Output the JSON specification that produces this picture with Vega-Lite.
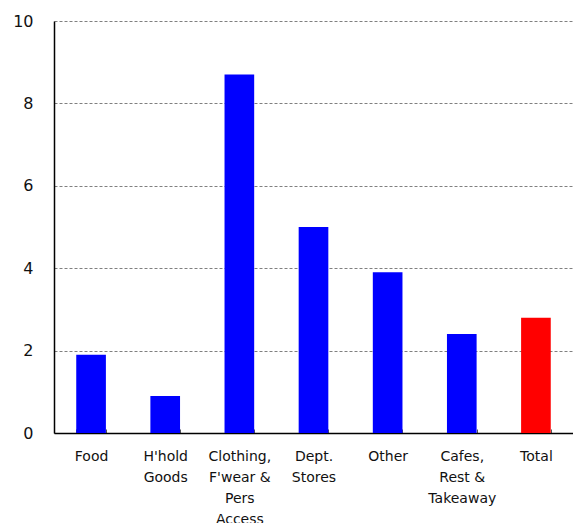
{
  "$schema": "https://vega.github.io/schema/vega-lite/v6.json",
  "autosize": {"type": "none"},
  "padding": {"left": 54, "top": 21, "right": 0, "bottom": 90},
  "width": 519,
  "height": 412,
  "background": "white",
  "config": {"view": {"stroke": null}},
  "data": {
    "values": [
      {"category": "Food", "value": 1.9, "group": "sector"},
      {"category": "H'hold|Goods", "value": 0.9, "group": "sector"},
      {"category": "Clothing,|F'wear &|Pers|Access", "value": 8.7, "group": "sector"},
      {"category": "Dept.|Stores", "value": 5.0, "group": "sector"},
      {"category": "Other", "value": 3.9, "group": "sector"},
      {"category": "Cafes,|Rest &|Takeaway", "value": 2.4, "group": "sector"},
      {"category": "Total", "value": 2.8, "group": "total"}
    ]
  },
  "mark": {"type": "bar"},
  "encoding": {
    "x": {
      "field": "category",
      "type": "nominal",
      "sort": null,
      "scale": {"paddingInner": 0.6, "paddingOuter": 0.3},
      "axis": {
        "title": null,
        "labelAngle": 0,
        "labelExpr": "split(datum.label, '|')",
        "labelFont": "DejaVu Sans",
        "labelFontSize": 14,
        "labelColor": "#111111",
        "labelLineHeight": 21,
        "labelPadding": 20,
        "labelLimit": 0,
        "labelBaseline": "top",
        "tickBand": "extent",
        "tickSize": -4,
        "tickColor": "#555555",
        "tickWidth": 1,
        "domainColor": "#000000",
        "domainWidth": 1.5,
        "grid": false
      }
    },
    "y": {
      "field": "value",
      "type": "quantitative",
      "scale": {"domain": [0, 10], "nice": false},
      "axis": {
        "title": null,
        "values": [0, 2, 4, 6, 8, 10],
        "ticks": false,
        "labelPadding": 21,
        "labelFont": "DejaVu Sans",
        "labelFontSize": 16,
        "labelColor": "#111111",
        "domainColor": "#000000",
        "domainWidth": 1.5,
        "grid": true,
        "gridColor": "#808080",
        "gridDash": [3, 2],
        "gridWidth": 1
      }
    },
    "color": {
      "field": "group",
      "type": "nominal",
      "scale": {"domain": ["sector", "total"], "range": ["#0000FF", "#FF0000"]},
      "legend": null
    }
  }
}
